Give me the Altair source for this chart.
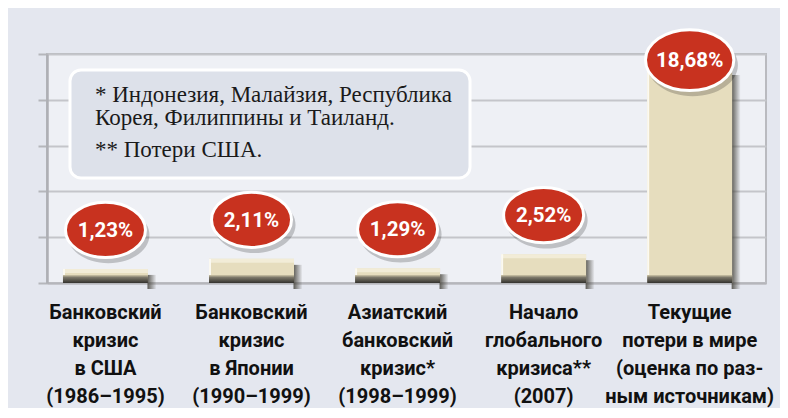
import altair as alt
import pandas as pd

categories = [
    "Банковский\nкризис\nв США\n(1986–1995)",
    "Банковский\nкризис\nв Японии\n(1990–1999)",
    "Азиатский\nбанковский\nкризис*\n(1998–1999)",
    "Начало\nглобального\nкризиса**\n(2007)",
    "Текущие\nпотери в мире\n(оценка по раз-\nным источникам)",
]
values = [1.23, 2.11, 1.29, 2.52, 18.68]
labels = ["1,23%", "2,11%", "1,29%", "2,52%", "18,68%"]
footnote_lines = [
    "* Индонезия,  Малайзия,  Республика",
    "Корея, Филиппины и Таиланд.",
    "** Потери США.",
]
y_ticks = [0, 4, 8, 12, 16, 20]

df = pd.DataFrame({"cat": categories, "value": values, "label": labels})

SANS = "Roboto, Liberation Sans, sans-serif"
SERIF = "Liberation Serif, Times New Roman, serif"
ELLIPSE = "M-1,0 A1,0.69 0 1,0 1,0 A1,0.69 0 1,0 -1,0 Z"

x = alt.X(
    "cat:N",
    sort=categories,
    scale=alt.Scale(paddingInner=0.417, paddingOuter=0.17, align=0.32),
    axis=alt.Axis(
        title=None,
        labelExpr="split(datum.label, '\\n')",
        labelAngle=0,
        labelFont=SANS,
        labelFontWeight="bold",
        labelFontSize=20,
        labelColor="#111111",
        labelLineHeight=28,
        labelPadding=19,
        labelLimit=0,
        labelOverlap=False,
        ticks=False,
        domainColor="#b5b6bb",
        domainWidth=2,
    ),
)
y = alt.Y(
    "value:Q",
    scale=alt.Scale(domain=[0, 20], nice=False),
    axis=alt.Axis(
        title=None,
        values=y_ticks,
        labels=False,
        grid=True,
        gridColor="#c4c5ca",
        gridWidth=2,
        tickColor="#b5b6bb",
        tickSize=9,
        tickWidth=2,
        domainColor="#aeafb4",
        domainWidth=2.5,
    ),
)

base = alt.Chart(df)

shadow = base.mark_bar(
    width=9, xOffset=46.5, yOffset=6,
    color=alt.Gradient(
        gradient="linear",
        stops=[alt.GradientStop(color="rgba(70,68,60,0.85)", offset=0),
               alt.GradientStop(color="rgba(70,68,60,0)", offset=1)],
        x1=0, x2=1, y1=0, y2=0,
    ),
).encode(x=x, y=y)

bars = base.mark_bar(width=85, color="#e6ddbe").encode(x=x, y=y)

top_hi = base.mark_tick(size=85, thickness=4, yOffset=2, color="#f7f2e1").encode(x=x, y=y)

left_hi = base.mark_bar(width=2, xOffset=-41.5, color="#fbf9f1").encode(x=x, y=y)

base_dark = base.mark_tick(
    size=85, thickness=8, yOffset=-4, opacity=1,
    color=alt.Gradient(
        gradient="linear",
        stops=[alt.GradientStop(color="#cfc6a8", offset=0),
               alt.GradientStop(color="#7d786a", offset=0.3),
               alt.GradientStop(color="#33322e", offset=1)],
        x1=0, x2=0, y1=0, y2=1,
    ),
).encode(x=x, y=alt.datum(0))


def bubble(filter_expr, y_off, size):
    sub = base.transform_filter(filter_expr)
    sh = sub.mark_point(
        shape=ELLIPSE, size=size * 1.05, filled=True, color="#000000", opacity=0.2,
        xOffset=3, yOffset=y_off + 5,
    ).encode(x=x, y=y)
    el = sub.mark_point(
        shape=ELLIPSE, size=size, filled=True, fill="#c8321f", stroke="#ffffff",
        strokeWidth=3, opacity=1, yOffset=y_off,
    ).encode(x=x, y=y)
    tx = sub.mark_text(
        font=SANS, fontWeight="bold", fontSize=20.5, color="#ffffff",
        baseline="middle", align="center", yOffset=y_off, dy=1,
    ).encode(x=x, y=y, text="label:N")
    return [sh, el, tx]


small = bubble("datum.value < 10", -39, 6400)
big = bubble("datum.value >= 10", -9, 7800)

note_data = alt.Data(values=[{"k": 1}])
box = alt.Chart(note_data).mark_rect(
    fill="#dde1ea", stroke="#ffffff", strokeWidth=3, cornerRadius=11,
).encode(x=alt.value(23), x2=alt.value(423), y=alt.value(16), y2=alt.value(124))

note_texts = []
for line, (px, py) in zip(footnote_lines, [(48, 48), (48, 71), (48, 103)]):
    note_texts.append(
        alt.Chart(note_data).mark_text(
            text=line, font=SERIF, fontSize=23, color="#1a1a1a", align="left",
            baseline="alphabetic",
        ).encode(x=alt.value(px), y=alt.value(py))
    )

chart = alt.layer(
    box, *note_texts, shadow, bars, top_hi, left_hi, base_dark, *small, *big
).properties(
    width=719,
    height=229,
    background="#e4e7ef",
    padding={"left": 39, "top": 46, "right": 14, "bottom": 125},
    autosize=alt.AutoSizeParams(type="none"),
).configure_view(
    fill="#eef0f5", stroke="#b9babf", strokeWidth=2
)

chart.save("out.html", embed_options={"renderer": "svg", "actions": False})
